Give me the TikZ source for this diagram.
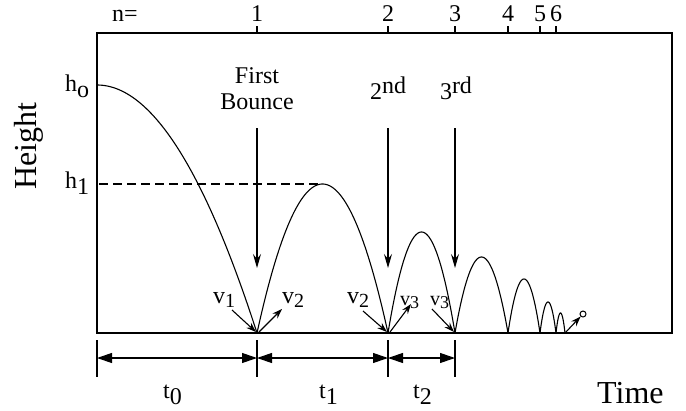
\documentclass[tikz,border=0pt]{standalone}
\usepackage{fontspec}
\setmainfont{Liberation Serif}
\usetikzlibrary{arrows.meta}
\newcommand\bouncearc[3]{\draw[curve] plot[domain=#1:#2, samples=80] (\x,{333-#3*(1-((2*\x-#1-#2)/(#2-#1))^2)});}
\newcommand\lsub[1]{\raisebox{-6pt}{#1}}
\newcommand\vsub[1]{\raisebox{-4pt}{\fontsize{20}{20}\selectfont #1}}
\newcommand\ssub[1]{\raisebox{-3pt}{\fontsize{18}{18}\selectfont #1}}
\begin{document}
\begin{tikzpicture}[x=1pt,y=-1pt,
  lbl/.style={inner sep=0pt, anchor=base, font=\fontsize{24}{26}\selectfont},
  lblw/.style={inner sep=0pt, anchor=base west, font=\fontsize{24}{26}\selectfont},
  smalllbl/.style={inner sep=0pt, anchor=base west, font=\fontsize{20}{22}\selectfont},
  big/.style={inner sep=0pt, font=\fontsize{32}{34}\selectfont},
  curve/.style={line width=1.1pt},
  frame/.style={line width=1.3pt},
  tick/.style={line width=1.1pt},
  darrow/.style={line width=1.1pt, -{Stealth[length=14pt,width=8pt,inset=5pt]}},
  varrow/.style={line width=1.1pt, -{Stealth[length=10pt,width=7pt,inset=3.5pt]}},
  dim/.style={line width=1.1pt, {Triangle[length=15pt,width=10pt]}-{Triangle[length=15pt,width=10pt]}},
]
\useasboundingbox (0,0) rectangle (686,410);

% frame
\draw[frame] (97,33) rectangle (672,333);

% top scale
\node[lbl] (neq) at (125,21) {n=};
\foreach \n/\xx in {1/257,2/388,3/455,4/508,5/540,6/556}{
  \node[lbl] (num\n) at (\xx,21) {\n};
  \coordinate (tk\n) at (\xx,26);
  \coordinate (tb\n) at (\xx,33);
  \draw[tick] (tk\n) -- (tb\n);
}

% axis labels
\node[big, rotate=90] (height) at (29,146) {Height};
\node[big, anchor=base west] (time) at (597,403) {Time};
\node[lblw] (h0) at (65,91) {h\lsub{o}};
\node[lblw] (h1) at (65,188) {h\lsub{1}};

% trajectory
\draw[curve] plot[domain=97:257, samples=80] (\x,{85+248*((\x-97)/160)^2});
\bouncearc{257}{388}{149}
\bouncearc{388}{455}{101}
\bouncearc{455}{508}{76}
\bouncearc{508}{540}{54}
\bouncearc{540}{556}{31}
\bouncearc{556}{565}{20}

% dashed h1 level
\coordinate (dashL) at (99,184);
\coordinate (peak1) at (322,184);
\draw[line width=1.1pt, dash pattern=on 9pt off 5pt] (dashL) -- (peak1);

% bounce labels and arrows
\node[lbl, align=center] (first) at (257,109) {First\\Bounce};
\node[lbl] (second) at (388,99) {2\raisebox{6pt}{nd}};
\node[lbl] (third) at (456,99) {3\raisebox{6pt}{rd}};
\coordinate (a1t) at (257,128); \coordinate (a1b) at (257,268);
\coordinate (a2t) at (388,128); \coordinate (a2b) at (388,268);
\coordinate (a3t) at (455,128); \coordinate (a3b) at (455,268);
\draw[darrow] (a1t) -- (a1b);
\draw[darrow] (a2t) -- (a2b);
\draw[darrow] (a3t) -- (a3b);

% velocity labels
\node[lblw] (v1) at (213,303) {v\vsub{1}};
\node[lblw] (v2a) at (282,303) {v\vsub{2}};
\node[lblw] (v2b) at (347,303) {v\vsub{2}};
\node[smalllbl] (v3a) at (400,305) {v\ssub{3}};
\node[smalllbl] (v3b) at (430,305) {v\ssub{3}};
\coordinate (b1in) at (232,310); \coordinate (b1) at (256,332);
\coordinate (b1o) at (259,332); \coordinate (b1out) at (282,309);
\coordinate (b2in) at (363,311); \coordinate (b2) at (387,332);
\coordinate (b2o) at (390,332); \coordinate (b2out) at (411,304);
\coordinate (b3in) at (432,309); \coordinate (b3) at (454,332);
\draw[varrow] (b1in) -- (b1);
\draw[varrow] (b1o) -- (b1out);
\draw[varrow] (b2in) -- (b2);
\draw[varrow] (b2o) -- (b2out);
\draw[varrow] (b3in) -- (b3);

% ball
\node[draw, circle, line width=1pt, minimum size=6pt, inner sep=0pt] (ball) at (583,314) {};
\coordinate (b7) at (565,333);
\draw[varrow] (b7) -- (ball);

% time intervals
\foreach \i/\xx in {0/97,1/257,2/388,3/455}{
  \coordinate (dt\i) at (\xx,340);
  \coordinate (db\i) at (\xx,377);
  \coordinate (dm\i) at (\xx,358);
  \draw[tick] (dt\i) -- (db\i);
}
\draw[dim] (dm0) -- (dm1);
\draw[dim] (dm1) -- (dm2);
\draw[dim] (dm2) -- (dm3);
\node[lblw] (t0) at (163,398) {t\lsub{0}};
\node[lblw] (t1) at (319,398) {t\lsub{1}};
\node[lblw] (t2) at (413,398) {t\lsub{2}};
\end{tikzpicture}
\end{document}
